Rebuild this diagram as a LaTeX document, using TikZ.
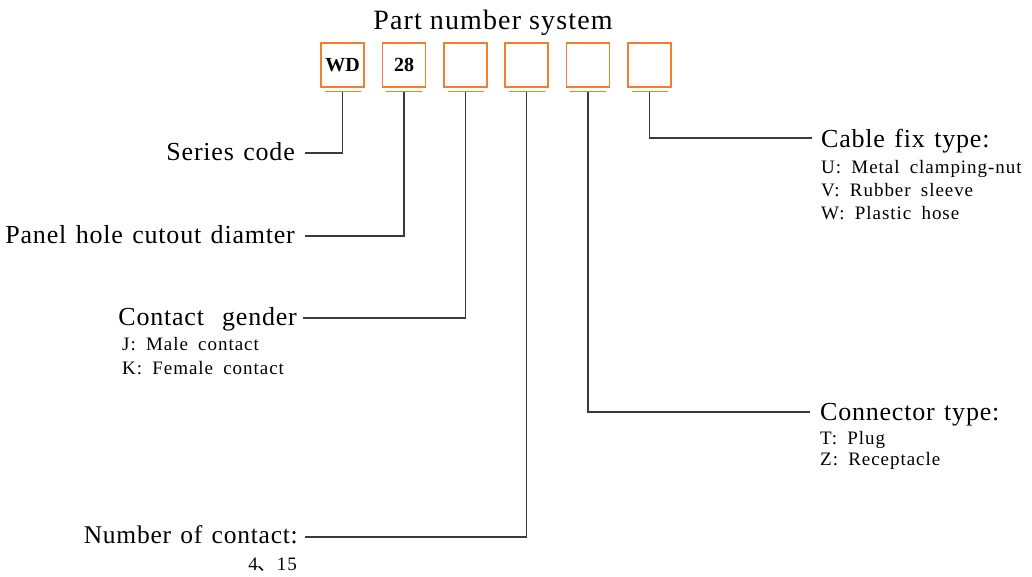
\documentclass[tikz,border=0pt]{standalone}
\usepackage{fontspec}
\setmainfont{Liberation Serif}
\newfontfamily\titlef[LetterSpace=4]{Liberation Serif}
\newfontfamily\bigf[LetterSpace=3,WordSpace=1.3]{Liberation Serif}
\newfontfamily\smallf[LetterSpace=5,WordSpace=1.8]{Liberation Serif}
\newfontfamily\cjkf{Noto Sans CJK SC}
\definecolor{boxorange}{HTML}{F27E2E}
\definecolor{leadgray}{HTML}{3A3A3A}
\tikzset{
  codebox/.style={draw=boxorange, line width=1.4pt, minimum width=43pt, minimum height=44pt, inner sep=0pt, font=\bfseries\fontsize{20}{20}\selectfont},
  uline/.style={draw=boxorange, line width=1.4pt},
  lead/.style={draw=leadgray, line width=1.1pt},
  lefthdr/.style={inner sep=0pt, anchor=base east, font=\bigf\fontsize{26}{28}\selectfont},
  righthdr/.style={inner sep=0pt, anchor=base west, font=\bigf\fontsize{26}{28}\selectfont},
  listtxt/.style={inner sep=0pt, anchor=base west, font=\smallf\fontsize{19}{23}\selectfont},
}
\begin{document}
\begin{tikzpicture}[x=1pt,y=1pt]
\useasboundingbox (0,0) rectangle (1032,-576);
% title
\node[inner sep=0pt, anchor=base, font=\titlef\fontsize{28}{30}\selectfont] (title) at (493,-29) {Part number system};
% boxes
\node[codebox] (b1) at (342.5,-65) {WD};
\node[codebox] (b2) at (404,-65) {28};
\node[codebox] (b3) at (465.5,-65) {};
\node[codebox] (b4) at (526.5,-65) {};
\node[codebox] (b5) at (588,-65) {};
\node[codebox] (b6) at (649.5,-65) {};
% underlines
\foreach \i in {1,...,6}{
  \coordinate (u\i) at ([yshift=-4pt]b\i.south);
  \draw[uline] ([xshift=-18pt]u\i) -- ([xshift=18pt]u\i);
}
% labels left
\node[lefthdr] (series) at (295,-160) {Series code};
\node[lefthdr] (panel) at (295,-243) {Panel hole cutout diamter};
\node[lefthdr] (gender) at (297,-325) {Contact\,\, gender};
\node[listtxt] (genderJ) at (122,-350) {J: Male contact};
\node[listtxt] (genderK) at (122,-374) {K: Female contact};
\node[lefthdr, font=\bigf\fontsize{25.5}{28}\selectfont] (number) at (298,-543) {Number of contact:};
\node[inner sep=0pt, anchor=base east, font=\smallf\fontsize{19}{23}\selectfont] (numberlist) at (297,-570) {4{\cjkf 、}15};
% labels right
\node[righthdr] (cable) at (821,-147) {Cable fix type:};
\node[listtxt] (cableU) at (821,-173) {U: Metal clamping-nut};
\node[listtxt] (cableV) at (821,-196) {V: Rubber sleeve};
\node[listtxt] (cableW) at (821,-219) {W: Plastic hose};
\node[righthdr] (conn) at (820,-420) {Connector type:};
\node[listtxt] (connT) at (820,-444) {T: Plug};
\node[listtxt] (connZ) at (820,-465) {Z: Receptacle};
% leader ends
\coordinate (e1) at ([xshift=10pt,yshift=7pt]series.base east);
\coordinate (e2) at ([xshift=10pt,yshift=7pt]panel.base east);
\coordinate (e3) at ([xshift=6pt,yshift=7pt]gender.base east);
\coordinate (e4) at ([xshift=7pt,yshift=6pt]number.base east);
\coordinate (e5) at ([xshift=-10pt,yshift=8pt]conn.base west);
\coordinate (e6) at ([xshift=-9pt,yshift=9pt]cable.base west);
% leaders
\draw[lead] (u1) |- (e1);
\draw[lead] (u2) |- (e2);
\draw[lead] (u3) |- (e3);
\draw[lead] (u4) |- (e4);
\draw[lead] (u5) |- (e5);
\draw[lead] (u6) |- (e6);
\end{tikzpicture}
\end{document}
